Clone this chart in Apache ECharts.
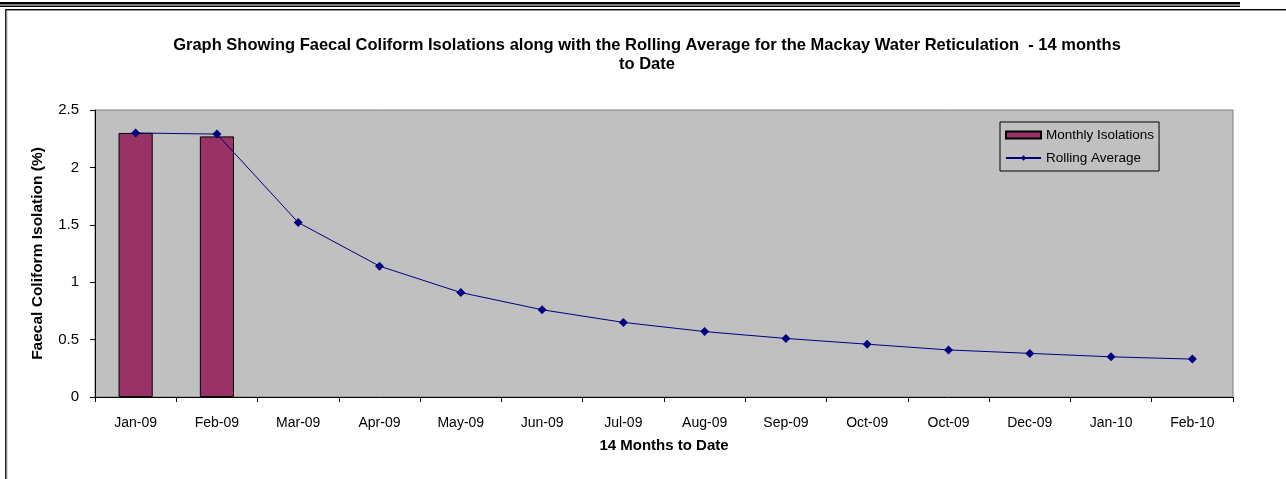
<!DOCTYPE html>
<html>
<head>
<meta charset="utf-8">
<script src="https://cdn.jsdelivr.net/npm/echarts@6/dist/echarts.min.js"></script>
<style>
html,body{margin:0;padding:0;background:#fff;}
#chart{width:1286px;height:479px;}
</style>
</head>
<body>
<div id="chart"></div>
<script>
const categories = ['Jan-09','Feb-09','Mar-09','Apr-09','May-09','Jun-09','Jul-09','Aug-09','Sep-09','Oct-09','Oct-09','Dec-09','Jan-10','Feb-10'];
const monthlyIsolations = [2.30, 2.27, 0, 0, 0, 0, 0, 0, 0, 0, 0, 0, 0, 0];
const rollingAverage = [2.30, 2.29, 1.52, 1.14, 0.91, 0.76, 0.65, 0.57, 0.51, 0.46, 0.41, 0.38, 0.35, 0.33];
const yTicks = [0, 0.5, 1, 1.5, 2, 2.5];

const FONT = '"Liberation Sans", Arial, sans-serif';
const chart = echarts.init(document.getElementById('chart'), null, {renderer: 'canvas'});

const barData = monthlyIsolations.map(v => v === 0
  ? {value: v, itemStyle: {borderWidth: 0}}
  : v);

chart.setOption({
  animation: false,
  backgroundColor: '#ffffff',
  title: {
    text: 'Graph Showing Faecal Coliform Isolations along with the Rolling Average for the Mackay Water Reticulation  - 14 months\nto Date',
    left: 642,
    textAlign: 'center',
    top: 31,
    textStyle: {fontFamily: FONT, fontSize: 16.5, fontWeight: 'bold', color: '#000', lineHeight: 19}
  },
  legend: {
    left: 1000,
    top: 122,
    orient: 'vertical',
    padding: [6, 5, 6, 5],
    itemGap: 9,
    itemWidth: 35,
    itemHeight: 7,
    backgroundColor: '#C0C0C0',
    borderColor: '#000',
    borderWidth: 1,
    textStyle: {fontFamily: FONT, fontSize: 13.5, color: '#000'},
    data: [
      {name: 'Monthly Isolations', icon: 'rect'},
      {name: 'Rolling Average'}
    ]
  },
  grid: {
    left: 95, right: 53, top: 110, bottom: 82,
    show: true,
    backgroundColor: '#C0C0C0',
    borderColor: '#808080',
    borderWidth: 1
  },
  xAxis: {
    type: 'category',
    data: categories,
    name: '14 Months to Date',
    nameLocation: 'middle',
    nameGap: 41,
    nameTextStyle: {fontFamily: FONT, fontSize: 15, fontWeight: 'bold', color: '#000'},
    axisLine: {lineStyle: {color: '#000', width: 1}},
    axisTick: {show: true, length: 5, lineStyle: {color: '#000'}},
    axisLabel: {fontFamily: FONT, fontSize: 14, color: '#000', margin: 19, interval: 0},
    splitLine: {show: false}
  },
  yAxis: {
    type: 'value',
    min: yTicks[0],
    max: yTicks[yTicks.length - 1],
    interval: 0.5,
    name: 'Faecal Coliform Isolation (%)',
    nameLocation: 'middle',
    nameGap: 49,
    nameTextStyle: {fontFamily: FONT, fontSize: 15.5, fontWeight: 'bold', color: '#000'},
    axisLine: {show: true, lineStyle: {color: '#000', width: 1}},
    axisTick: {show: true, length: 5, lineStyle: {color: '#000'}},
    axisLabel: {fontFamily: FONT, fontSize: 15, color: '#000', margin: 16},
    splitLine: {show: false}
  },
  series: [
    {
      name: 'Monthly Isolations',
      type: 'bar',
      data: barData,
      barWidth: '42%',
      itemStyle: {color: '#993366', borderColor: '#000', borderWidth: 1}
    },
    {
      name: 'Rolling Average',
      type: 'line',
      data: rollingAverage,
      symbol: 'diamond',
      symbolSize: 9,
      lineStyle: {color: '#000080', width: 1},
      itemStyle: {color: '#000080'}
    }
  ],
  graphic: [
    {type: 'rect', shape: {x: 0, y: 2, width: 1240, height: 2.5}, style: {fill: '#000'}, silent: true},
    {type: 'rect', shape: {x: 0, y: 5.5, width: 1240, height: 1.5}, style: {fill: '#000'}, silent: true},
    {type: 'rect', shape: {x: 5, y: 9, width: 1281, height: 1}, style: {fill: '#000'}, silent: true},
    {type: 'rect', shape: {x: 5, y: 10, width: 1281, height: 1}, style: {fill: '#999'}, silent: true},
    {type: 'rect', shape: {x: 5, y: 9, width: 1.5, height: 470}, style: {fill: '#222'}, silent: true},
    {type: 'rect', shape: {x: 6.5, y: 10, width: 0.8, height: 469}, style: {fill: '#888'}, silent: true}
  ]
});
</script>
</body>
</html>
